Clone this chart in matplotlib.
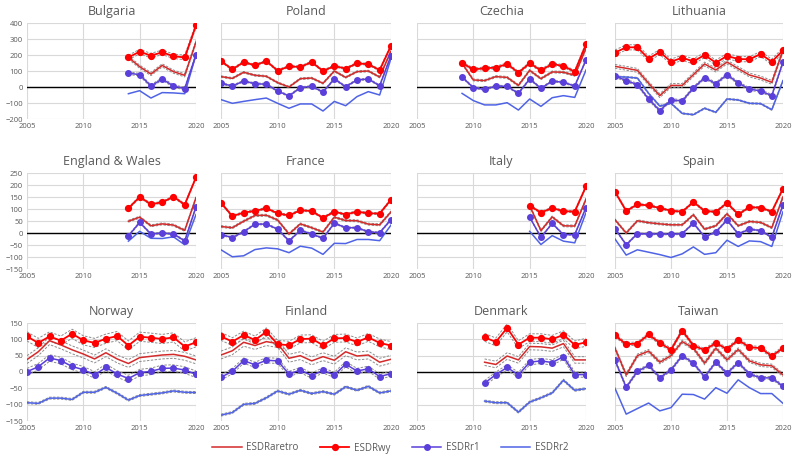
import matplotlib
matplotlib.use("Agg")
import matplotlib.pyplot as plt
from matplotlib.lines import Line2D
import numpy as np

plt.rcParams['font.family'] = ['Open Sans', 'DejaVu Sans']

# ---------------- data ----------------
countries = ["Bulgaria", "Poland", "Czechia", "Lithuania",
             "England & Wales", "France", "Italy", "Spain",
             "Norway", "Finland", "Denmark", "Taiwan"]

start_years = [2014, 2005, 2009, 2005, 2014, 2005, 2015, 2005, 2005, 2005, 2011, 2005]

bulgaria_wy     = [185, 221, 196, 217, 192, 185, 385]
bulgaria_aretro = [185, 127, 81, 135, 96, 73, 281]
bulgaria_r1     = [87, 77, 6, 50, 6, -10, 202]
bulgaria_r2     = [-42, -23, -69, -35, -37, -42, 202]

poland_wy     = [162, 110, 156, 135, 162, 102, 129, 125, 156, 100, 131, 115, 148, 142, 106, 258]
poland_aretro = [65, 54, 92, 73, 67, 27, 0, 52, 56, 23, 100, 60, 96, 100, 62, 225]
poland_r1     = [23, 6, 37, 21, 17, -25, -56, -4, 4, -31, 50, 2, 44, 50, 8, 196]
poland_r2     = [-79, -102, -90, -79, -69, -102, -133, -106, -106, -150, -90, -117, -60, -29, -50, 179]

czechia_wy     = [150, 110, 117, 121, 144, 90, 148, 104, 144, 131, 96, 267]
czechia_aretro = [148, 44, 40, 65, 60, 10, 104, 52, 94, 92, 73, 242]
czechia_r1     = [62, -4, -15, 6, 4, -40, 50, -8, 37, 29, 6, 169]
czechia_r2     = [-40, -85, -112, -112, -98, -144, -75, -121, -67, -54, -65, 106]

lithuania_wy     = [215, 248, 248, 177, 219, 158, 183, 160, 200, 152, 194, 175, 173, 206, 158, 229]
lithuania_aretro = [129, 117, 104, 23, -54, 10, 10, 77, 144, 106, 156, 115, 75, 56, 29, 229]
lithuania_r1     = [69, 40, 15, -75, -148, -81, -87, -6, 58, 21, 77, 25, -12, -25, -54, 156]
lithuania_r2     = [65, 62, 56, -40, -119, -102, -165, -173, -133, -158, -75, -81, -102, -104, -142, 40]

england_wy     = [103, 150, 120, 128, 151, 118, 232]
england_aretro = [49, 66, 30, 38, 33, 11, 147]
england_r1     = [-12, 44, -4, 0, -4, -33, 109]
england_r2     = [-34, 7, -22, -23, -16, -49, 77]

france_wy     = [126, 70, 85, 92, 103, 82, 73, 95, 91, 63, 89, 77, 89, 82, 81, 139]
france_aretro = [27, 22, 49, 73, 74, 54, -4, 38, 22, 4, 66, 52, 51, 37, 34, 88]
france_r1     = [-7, -19, 5, 37, 37, 16, -33, 11, -4, -22, 41, 22, 22, 5, 1, 56]
france_r2     = [-70, -99, -95, -69, -62, -66, -82, -55, -63, -89, -43, -44, -27, -27, -32, 33]

italy_wy     = [114, 85, 104, 91, 89, 194]
italy_aretro = [114, 10, 67, 30, 29, 141]
italy_r1     = [66, -18, 40, -7, -7, 106]
italy_r2     = [7, -48, -11, -34, -41, 85]

spain_wy     = [172, 92, 119, 115, 104, 93, 89, 129, 92, 88, 125, 78, 107, 106, 89, 185]
spain_aretro = [55, 0, 51, 43, 38, 34, 34, 76, 16, 30, 80, 30, 48, 44, 22, 151]
spain_r1     = [18, -49, -3, -4, -4, -5, -3, 41, -16, 4, 54, -4, 16, 10, -18, 118]
spain_r2     = [-25, -92, -70, -80, -90, -102, -87, -58, -89, -82, -30, -56, -33, -36, -56, 89]

norway_wy     = [109, 89, 109, 96, 117, 97, 89, 102, 110, 81, 108, 105, 101, 106, 78, 91]
norway_aretro = [38, 62, 96, 83, 68, 55, 40, 59, 40, 26, 44, 48, 52, 54, 48, 37]
norway_r1     = [1, 16, 43, 35, 17, 7, -9, 14, -6, -20, -2, 2, 11, 12, 6, -7]
norway_r2     = [-94, -96, -80, -80, -84, -62, -62, -47, -65, -86, -72, -68, -64, -58, -62, -63]

finland_wy     = [109, 93, 113, 98, 123, 85, 82, 101, 102, 82, 103, 104, 92, 106, 89, 81]
finland_aretro = [52, 65, 91, 81, 93, 87, 42, 50, 34, 47, 36, 62, 49, 52, 30, 39]
finland_r1     = [-16, 2, 35, 22, 36, 34, -6, 6, -11, 5, -9, 24, 3, 10, -14, -5]
finland_r2     = [-132, -124, -99, -96, -79, -58, -68, -56, -66, -60, -68, -45, -56, -44, -64, -58]

denmark_wy     = [106, 92, 135, 84, 105, 105, 100, 114, 83, 91]
denmark_aretro = [30, 23, 49, 37, 78, 77, 73, 87, 37, 37]
denmark_r1     = [-34, -8, 14, -9, 30, 34, 29, 47, -8, -8]
denmark_r2     = [-89, -94, -94, -123, -92, -79, -64, -25, -56, -51]

taiwan_wy     = [112, 85, 87, 115, 89, 68, 127, 81, 67, 89, 70, 98, 76, 73, 49, 73]
taiwan_aretro = [73, -9, 50, 64, 30, 50, 93, 73, 27, 73, 37, 69, 34, 22, 19, -9]
taiwan_r1     = [36, -47, 2, 20, -17, 6, 50, 27, -15, 30, -4, 29, -6, -18, -18, -44]
taiwan_r2     = [-50, -129, -112, -95, -119, -109, -68, -69, -83, -48, -65, -24, -48, -66, -66, -96]

# approximate half-widths of the grey dashed uncertainty bands (wy, aretro, r1, r2)
ci_halfwidth = {
    "Bulgaria": (14, 10, 8, 0), "Poland": (6, 5, 5, 0), "Czechia": (8, 6, 5, 0),
    "Lithuania": (16, 12, 8, 4), "England & Wales": (4, 4, 3, 0), "France": (4, 4, 3, 0),
    "Italy": (4, 4, 2, 0), "Spain": (4, 4, 3, 0), "Norway": (14, 12, 10, 3),
    "Finland": (12, 12, 8, 3), "Denmark": (12, 10, 8, 3), "Taiwan": (5, 5, 4, 0),
}

series = {
    "Bulgaria": (bulgaria_wy, bulgaria_aretro, bulgaria_r1, bulgaria_r2),
    "Poland": (poland_wy, poland_aretro, poland_r1, poland_r2),
    "Czechia": (czechia_wy, czechia_aretro, czechia_r1, czechia_r2),
    "Lithuania": (lithuania_wy, lithuania_aretro, lithuania_r1, lithuania_r2),
    "England & Wales": (england_wy, england_aretro, england_r1, england_r2),
    "France": (france_wy, france_aretro, france_r1, france_r2),
    "Italy": (italy_wy, italy_aretro, italy_r1, italy_r2),
    "Spain": (spain_wy, spain_aretro, spain_r1, spain_r2),
    "Norway": (norway_wy, norway_aretro, norway_r1, norway_r2),
    "Finland": (finland_wy, finland_aretro, finland_r1, finland_r2),
    "Denmark": (denmark_wy, denmark_aretro, denmark_r1, denmark_r2),
    "Taiwan": (taiwan_wy, taiwan_aretro, taiwan_r1, taiwan_r2),
}

row_ylims = [(-200, 400), (-150, 250), (-150, 150)]
row_yticks = [np.arange(-200, 401, 100), np.arange(-150, 251, 50), np.arange(-150, 151, 50)]
x_ticks = [2005, 2010, 2015, 2020]

# ---------------- styling ----------------
C_WY = "#FF0000"
C_ARETRO = "#D42A2A"
C_R1 = "#5B3FDB"
C_R2 = "#4F63E6"
C_CI = "#8C8C8C"
TXT = "#595959"

W, H = 797, 463
fig = plt.figure(figsize=(W / 100, H / 100), dpi=100)

col_px = [(27, 196), (221, 391), (417, 586), (615, 783)]
row_px = [(23, 119), (173, 269), (323, 421)]

for i, name in enumerate(countries):
    r, c = divmod(i, 4)
    x0, x1 = col_px[c]
    y0, y1 = row_px[r]
    ax = fig.add_axes([x0 / W, 1 - y1 / H, (x1 - x0) / W, (y1 - y0) / H])
    wy, aretro, r1, r2 = series[name]
    yrs = np.arange(start_years[i], start_years[i] + len(wy))
    hw = ci_halfwidth[name]

    ax.axhline(0, color="black", lw=1.0, zorder=2)
    for vals, h in zip((wy, aretro, r1, r2), hw):
        if h > 0:
            v = np.asarray(vals, float)
            for s in (1, -1):
                ax.plot(yrs, v + s * h, color=C_CI, lw=0.7, ls=(0, (2.5, 1.5)), zorder=3)

    ax.plot(yrs, r2, color=C_R2, lw=1.1, zorder=4)
    ax.plot(yrs, aretro, color=C_ARETRO, lw=1.1, zorder=4)
    ax.plot(yrs, r1, color=C_R1, lw=1.1, marker="o", ms=4, zorder=5)
    ax.plot(yrs, wy, color=C_WY, lw=1.3, marker="o", ms=4.2, zorder=5)

    ax.set_xlim(2005, 2020)
    ax.set_ylim(*row_ylims[r])
    ax.set_yticks(row_yticks[r])
    ax.set_xticks(x_ticks)
    ax.grid(True, color="#D9D9D9", lw=0.8, zorder=0)
    ax.set_axisbelow(True)
    for sp in ax.spines.values():
        sp.set_visible(False)
    ax.tick_params(length=0, labelsize=5.5, labelcolor=TXT, pad=3)
    if c != 0:
        ax.set_yticklabels([])
    ax.set_title(name, fontsize=9, color=TXT, pad=6)

handles = [
    Line2D([], [], color=C_ARETRO, lw=1.1),
    Line2D([], [], color=C_WY, lw=1.3, marker="o", ms=4.2),
    Line2D([], [], color=C_R1, lw=1.1, marker="o", ms=4),
    Line2D([], [], color=C_R2, lw=1.1),
]
fig.legend(handles, ["ESDRaretro", "ESDRwy", "ESDRr1", "ESDRr2"],
           loc="center", bbox_to_anchor=(0.49, 1 - 448 / H), ncol=4, frameon=False,
           fontsize=7, labelcolor=TXT, handlelength=3.0, handletextpad=0.5,
           columnspacing=2.2)

fig.savefig("out.png", dpi=100)
